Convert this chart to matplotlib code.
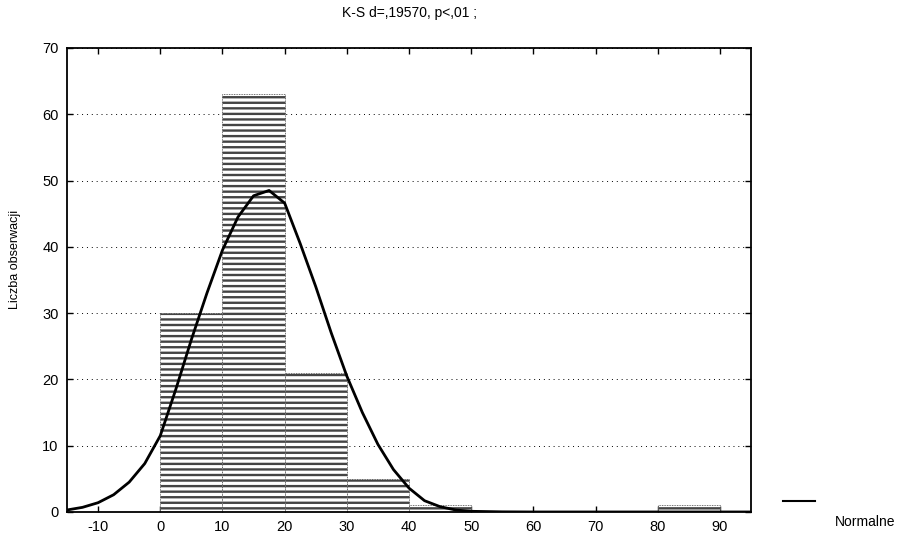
import matplotlib
matplotlib.use("Agg")
import matplotlib.pyplot as plt
from matplotlib.lines import Line2D
import numpy as np

plt.rcParams['font.family'] = ['Liberation Sans', 'DejaVu Sans']
plt.rcParams['hatch.linewidth'] = 1.7
plt.rcParams['hatch.color'] = 'black'
plt.rcParams['axes.unicode_minus'] = False

# Histogram data
bin_edges = [0, 10, 20, 30, 40, 50, 60, 70, 80, 90]
counts = [30, 63, 21, 5, 1, 0, 0, 0, 1]

# Fitted normal curve
curve_x = [-15, -12.5, -10, -7.5, -5, -2.5, 0, 2.5, 5, 7.5, 10, 12.5, 15, 17.5,
           20, 22.5, 25, 27.5, 30, 32.5, 35, 37.5, 40, 42.5, 45, 47.5, 50, 55,
           60, 70, 80, 95]
curve_y = [0.3, 0.7, 1.4, 2.6, 4.5, 7.3, 11.5, 18.5, 26, 33, 39.5, 44.5, 47.7, 48.5,
           46.6, 40.5, 34, 27, 20.5, 15, 10.2, 6.4, 3.6, 1.7, 0.8, 0.3, 0.1, 0.02,
           0, 0, 0, 0]

x_ticks = [-10, 0, 10, 20, 30, 40, 50, 60, 70, 80, 90]
y_ticks = [0, 10, 20, 30, 40, 50, 60, 70]

title = "K-S d=,19570, p<,01 ;"
ylabel = "Liczba obserwacji"
legend_label = "Normalne"

fig = plt.figure(figsize=(9.09, 5.40), dpi=100)
ax = fig.add_axes([0.0737, 0.0519, 0.7525, 0.8593])

lefts = bin_edges[:-1]
widths = np.diff(bin_edges)
ax.bar(lefts, counts, width=widths, align='edge', color='white',
       edgecolor='#444444', linewidth=0.6, linestyle=(0, (1, 1)),
       hatch='---', zorder=2)

ax.plot(curve_x, curve_y, color='black', linewidth=2.0, zorder=3)

ax.set_xlim(-15, 95)
ax.set_ylim(0, 70)
ax.set_xticks(x_ticks)
ax.set_yticks(y_ticks)
ax.yaxis.grid(True, linestyle=(0, (1, 4)), color='black', linewidth=0.7, zorder=0)
ax.set_axisbelow(True)

ax.tick_params(direction='in', length=4, width=1, top=True, right=True,
               labelsize=10.5, pad=6)
for s in ax.spines.values():
    s.set_linewidth(1.3)

fig.text(0.45, 0.975, title, ha='center', va='center', fontsize=10)
fig.text(0.016, 0.52, ylabel, rotation=90, ha='center', va='center', fontsize=9)

# Legend drawn outside the axes
fig.add_artist(Line2D([0.861, 0.897], [0.072, 0.072], color='black', linewidth=1.5))
fig.text(0.952, 0.033, legend_label, ha='center', va='center', fontsize=10)

fig.savefig("out.png", dpi=100)
